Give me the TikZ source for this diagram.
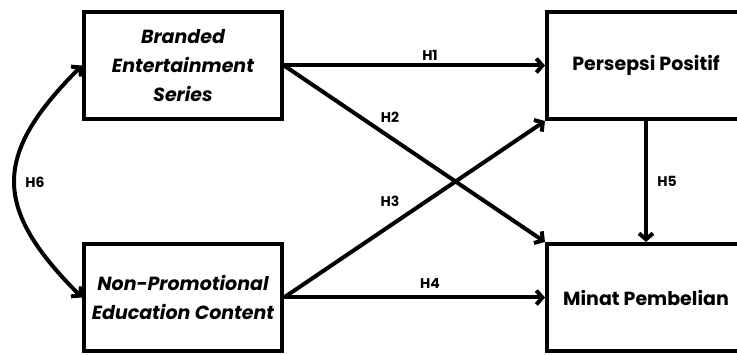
\documentclass[tikz,border=0pt]{standalone}
\usepackage{fontspec}
\setmainfont{Poppins}
\usetikzlibrary{arrows.meta}

\tikzset{
  box/.style={draw, line width=4pt, minimum width=198pt, minimum height=107pt,
    align=center, font=\fontsize{19}{29}\selectfont\bfseries},
  hlab/.style={font=\fontsize{14}{15}\selectfont\bfseries},
}

\begin{document}
\begin{tikzpicture}[x=1pt, y=1pt, >={Straight Barb[length=6pt,width=14pt]},
    line width=4pt]
  \clip (0,0) rectangle (737,355);
  \useasboundingbox (0,0) rectangle (737,355);
  % variables
  \node[box] (bes) at (183,289.5) {\itshape Branded\\ \itshape Entertainment\\ \itshape Series};
  \node[box] (npec) at (183,57.5) {\itshape Non-Promotional\\ \itshape Education Content};
  \node[box] (pp) at (646,289.5) {Persepsi Positif};
  \node[box] (mp) at (646,57.5) {Minat Pembelian};
  % hypotheses
  \draw[->] (bes.east) -- (pp.west);
  \draw[->] (bes.east) -- (mp.north west);
  \draw[->] (npec.east) -- (pp.south west);
  \draw[->] (npec.east) -- (mp.west);
  \draw[->] (pp.south) -- (mp.north);
  \draw[<->] (bes.west) to[out=225, in=135, looseness=1.4] (npec.west);
  \node[hlab] (h1) at (430,300) {H1};
  \node[hlab] (h2) at (390,238) {H2};
  \node[hlab] (h3) at (390,154) {H3};
  \node[hlab] (h4) at (430,72) {H4};
  \node[hlab] (h5) at (667,174) {H5};
  \node[hlab] (h6) at (35,173) {H6};
\end{tikzpicture}
\end{document}
